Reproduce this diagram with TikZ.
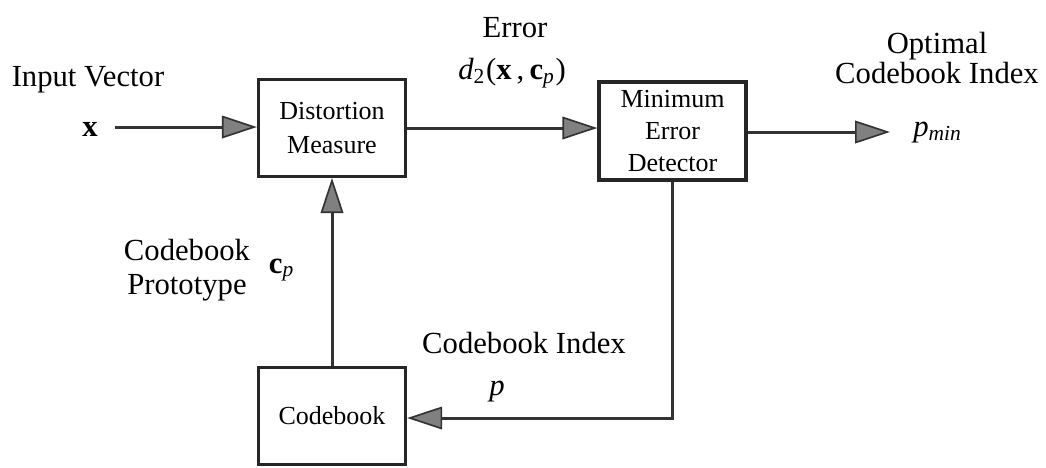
\documentclass[tikz,border=0pt]{standalone}
\usepackage{fontspec}
\setmainfont{Liberation Serif}
\usetikzlibrary{arrows.meta}
\tikzset{
  blockbox/.style={draw=black!85, line width=1pt, fill=white, align=center,
    font=\fontsize{7.8}{9}\selectfont, inner sep=0pt,
    minimum width=44.1pt, minimum height=29pt},
  lbl/.style={align=center, inner sep=0pt, font=\fontsize{9.2}{9.6}\selectfont},
  sig/.style={draw=black!80, line width=0.9pt,
    -{Triangle[length=10.5pt,width=6.8pt,fill=black!50,line width=0.5pt]}},
  wire/.style={draw=black!80, line width=0.9pt}
}
\begin{document}
\begin{tikzpicture}[x=0.3pt,y=-0.3pt]
  \useasboundingbox (0,0) rectangle (1046,467);

  % blocks
  \node[blockbox] (dm)  at (332,128) {Distortion\\[1pt]Measure};
  \node[blockbox, minimum height=29.4pt] (med) at (672.5,131) {Minimum\\[0.6pt]Error\\[0.6pt]Detector};
  \node[blockbox] (cb)  at (332,416) {Codebook};

  % free ends
  \coordinate (xin)  at (115,127);
  \coordinate (pout) at (890,132);

  % labels
  \node[lbl] (inlbl) at (88,80) {Input Vector};
  \node[lbl] (xlbl)  at (90,129) {\textbf{x}};
  \node[lbl] (errlbl) at (515,28) {Error};
  \node[lbl] (dlbl)  at (512,73) {\textit{d}\textsubscript{2}(\textbf{x}\,,\,\textbf{c}\textsubscript{\textit{p}})};
  \node[lbl, font=\fontsize{9.2}{9.2}\selectfont] (optlbl) at (937,58) {Optimal\\Codebook Index};
  \node[lbl] (pmin)  at (938,133) {\textit{p}\textsubscript{\textit{min}}};
  \node[lbl, font=\fontsize{9.2}{10}\selectfont] (protlbl) at (187,270) {Codebook\\Prototype};
  \node[lbl] (cplbl) at (282,270) {\textbf{c}\textsubscript{\textit{p}}};
  \node[lbl] (cilbl) at (524,343) {Codebook Index};
  \node[lbl] (plbl)  at (497,392) {\textit{p}};

  % connectors
  \draw[sig] (xin) -- (dm.west |- xin);
  \draw[sig] (dm.east |- 0,128) -- (med.west |- 0,128);
  \draw[sig] (med.east |- pout) -- (pout);
  \draw[sig] (cb.north) -- (dm.south);
  \draw[sig] (med.south) |- (cb.east |- 0,418);
\end{tikzpicture}
\end{document}
